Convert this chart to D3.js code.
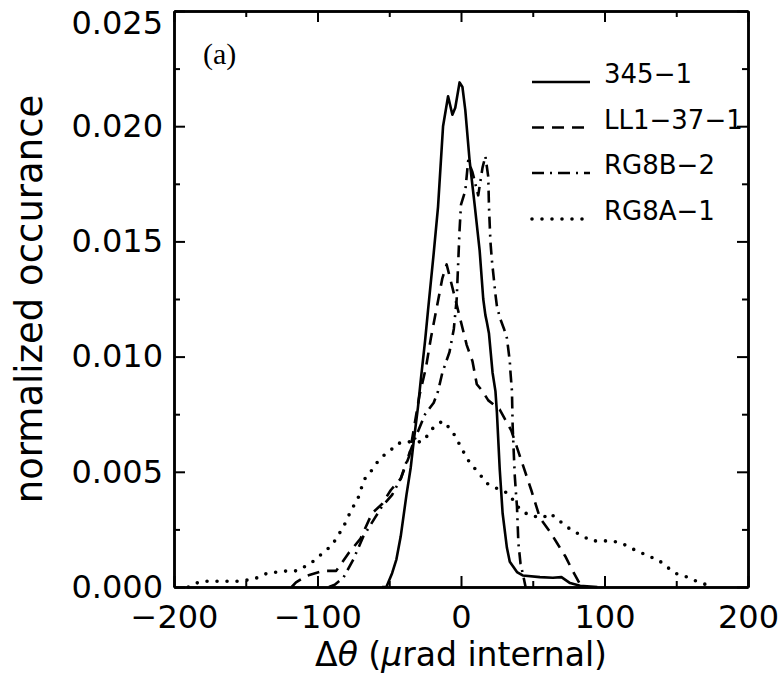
<!DOCTYPE html>
<html>
<head>
<meta charset="utf-8">
<script src="https://cdn.jsdelivr.net/npm/d3@7"></script>
<style>
  body { margin: 0; background: #fff; }
  svg { display: block; }
  .tick text { font-family: "DejaVu Sans", sans-serif; }
</style>
</head>
<body>
<div id="chart"></div>
<script>
// values: [delta theta (urad), normalized occurance]
const ser345 = [[-55,0],[-52,0],[-48,0.0006],[-45,0.0012],[-42,0.0022],[-38,0.0040],[-35,0.0052],[-33,0.0063],
  [-30,0.0078],[-28,0.0090],[-25,0.0107],[-23,0.0120],[-19,0.0145],[-16,0.0165],[-12.5,0.0200],[-9,0.0213],
  [-6,0.0205],[-4,0.0208],[-1,0.0219],[1,0.0217],[3,0.0207],[6,0.0185],[9.5,0.0166],[13,0.0146],[15.5,0.0125],
  [17,0.0118],[18,0.0115],[19.5,0.0110],[22,0.0093],[24,0.0085],[25,0.0076],[27,0.0051],[29,0.0032],[32,0.0017],
  [34,0.0011],[39,0.00065],[43,0.0005],[55,0.00043],[64,0.0004],[70,0.00043],[76,0.00017],[83,0.00005],[95,0]];

const serLL1 = [[-118,0],[-115,0.0002],[-107,0.0005],[-96,0.0007],[-87,0.0007],[-78,0.0015],[-70,0.0021],
  [-62,0.0032],[-55,0.0036],[-49,0.0042],[-42,0.0047],[-36,0.0057],[-29,0.0083],[-24.5,0.0095],[-21,0.0108],
  [-17,0.0121],[-13,0.0134],[-10,0.0140],[-4,0.0125],[-2,0.0120],[4,0.0105],[8,0.0098],[11,0.0088],[15,0.0085],
  [19,0.0081],[27,0.0077],[35,0.0068],[42,0.0055],[49,0.0042],[55,0.0030],[62,0.0024],[67,0.0019],[73,0.0013],
  [77,0.0008],[84,0]];

const serRG8B = [[-92,0],[-88,0.0001],[-82,0.0004],[-75,0.0012],[-68,0.0022],[-60,0.0030],[-55,0.0035],
  [-48,0.0040],[-42,0.0047],[-36,0.0058],[-31,0.0066],[-25,0.0075],[-19,0.0080],[-16,0.0085],[-13,0.0093],
  [-8,0.0102],[-5,0.0112],[-3,0.0125],[-2,0.0140],[-1,0.0155],[0,0.0166],[3,0.0172],[5,0.0185],[8,0.0180],
  [12,0.0170],[15,0.0182],[17,0.0187],[19,0.0178],[19.5,0.0165],[20.5,0.0150],[21.5,0.0142],[22.5,0.0136],
  [24,0.0127],[25,0.0122],[27,0.0117],[30,0.0112],[32,0.0108],[34,0.0098],[34.5,0.0093],[35.5,0.0085],
  [36,0.0070],[36.5,0.0062],[37.5,0.0048],[38.5,0.0039],[39,0.0035],[40,0.0019],[41.5,0.0010],[43,0.0006],[45,0]];

const serRG8A = [[-190,0],[-188,0.0001],[-180,0.00025],[-170,0.00025],[-163,0.00025],[-156,0.00025],
  [-149,0.0003],[-142,0.0004],[-135,0.0006],[-128,0.00065],[-121,0.0007],[-114,0.0007],[-107,0.00095],
  [-101,0.0012],[-96,0.0015],[-90,0.0018],[-86,0.0022],[-82,0.0026],[-79,0.0030],[-76,0.0034],[-72,0.0038],
  [-70,0.0042],[-67,0.0047],[-63,0.0050],[-58.5,0.0054],[-54,0.0057],[-49.5,0.0059],[-45,0.0062],[-40,0.0063],
  [-33,0.0063],[-27,0.0063],[-23,0.0066],[-19.5,0.0069],[-13,0.0072],[-8,0.0069],[-5.5,0.0067],[-2,0.0063],
  [1.4,0.0059],[6,0.0054],[13,0.0049],[18,0.0045],[24,0.0043],[29,0.0042],[34,0.0040],[38,0.0036],
  [42.5,0.0033],[48,0.0031],[57,0.0030],[62,0.0032],[68,0.0029],[74,0.0026],[79,0.0024],[85,0.0022],
  [91,0.0020],[98,0.0020],[105,0.0020],[112,0.0019],[118,0.0017],[125,0.0015],[132,0.0013],[137,0.0012],
  [143,0.0009],[149,0.0006],[155,0.0005],[162,0.0003],[168,0.00017],[175,0]];

const seriesNames = ["345\u22121", "LL1\u221237\u22121", "RG8B\u22122", "RG8A\u22121"];
const xMajor = [-200, -100, 0, 100, 200];
const xMinor = [-150, -50, 50, 150];
const yMajor = [0, 0.005, 0.010, 0.015, 0.020, 0.025];
const yMinor = [0.0025, 0.0075, 0.0125, 0.0175, 0.0225];

const width = 779, height = 690;
const margin = { left: 174, right: 748, top: 11, bottom: 587 };

const svg = d3.select("#chart").append("svg")
    .attr("width", width)
    .attr("height", height);

const x = d3.scaleLinear().domain([-200, 200]).range([margin.left, margin.right]);
const y = d3.scaleLinear().domain([0, 0.025]).range([margin.bottom, margin.top]);

// axes, ticks pointing inward on all four sides
function styleAxis(g) {
    g.selectAll("path.domain").attr("stroke", "#000").attr("stroke-width", 2.5);
    g.selectAll(".tick line").attr("stroke", "#000").attr("stroke-width", 2);
}

svg.append("g")
    .attr("transform", "translate(0," + margin.bottom + ")")
    .call(d3.axisBottom(x).tickValues(xMajor).tickSize(-11).tickSizeOuter(0).tickPadding(18))
    .call(styleAxis)
    .call(g => g.selectAll("text").attr("font-size", 32).attr("fill", "#000"));
svg.append("g")
    .attr("transform", "translate(0," + margin.bottom + ")")
    .call(d3.axisBottom(x).tickValues(xMinor).tickSize(-6).tickSizeOuter(0).tickFormat(""))
    .call(styleAxis);
svg.append("g")
    .attr("transform", "translate(0," + margin.top + ")")
    .call(d3.axisTop(x).tickValues(xMajor).tickSize(-11).tickSizeOuter(0).tickFormat(""))
    .call(styleAxis);
svg.append("g")
    .attr("transform", "translate(0," + margin.top + ")")
    .call(d3.axisTop(x).tickValues(xMinor).tickSize(-6).tickSizeOuter(0).tickFormat(""))
    .call(styleAxis);

svg.append("g")
    .attr("transform", "translate(" + margin.left + ",0)")
    .call(d3.axisLeft(y).tickValues(yMajor).tickSize(-11).tickSizeOuter(0).tickPadding(11).tickFormat(d3.format(".3f")))
    .call(styleAxis)
    .call(g => g.selectAll("text").attr("font-size", 32).attr("fill", "#000"))
    // the top label sits a little lower so it stays inside the picture
    .call(g => g.selectAll(".tick").filter(d => d === 0.025).select("text").attr("y", 12));
svg.append("g")
    .attr("transform", "translate(" + margin.left + ",0)")
    .call(d3.axisLeft(y).tickValues(yMinor).tickSize(-6).tickSizeOuter(0).tickFormat(""))
    .call(styleAxis);
svg.append("g")
    .attr("transform", "translate(" + margin.right + ",0)")
    .call(d3.axisRight(y).tickValues(yMajor).tickSize(-11).tickSizeOuter(0).tickFormat(""))
    .call(styleAxis);
svg.append("g")
    .attr("transform", "translate(" + margin.right + ",0)")
    .call(d3.axisRight(y).tickValues(yMinor).tickSize(-6).tickSizeOuter(0).tickFormat(""))
    .call(styleAxis);

// axis titles
svg.append("text")
    .attr("x", (margin.left + margin.right) / 2)
    .attr("y", 666)
    .attr("text-anchor", "middle")
    .style("font-family", "DejaVu Sans, sans-serif")
    .style("font-size", "33px")
    .html("\u0394<tspan font-style='italic'>\u03b8</tspan> (<tspan font-style='italic'>\u03bc</tspan>rad internal)");

svg.append("text")
    .attr("transform", "translate(42," + ((margin.top + margin.bottom) / 2) + ") rotate(-90)")
    .attr("text-anchor", "middle")
    .style("font-family", "DejaVu Sans, sans-serif")
    .style("font-size", "37px")
    .text("normalized occurance");

svg.append("text")
    .attr("x", 203)
    .attr("y", 64)
    .style("font-family", "Liberation Serif, serif")
    .style("font-size", "30px")
    .text("(a)");

// curves
const styles = [
    { data: ser345, dash: null, cap: "butt", w: 2.6 },
    { data: serLL1, dash: "12,8", cap: "butt", w: 2.6 },
    { data: serRG8B, dash: "12,6,2,6", cap: "butt", w: 2.6 },
    { data: serRG8A, dash: "0,10", cap: "round", w: 3.6 }
];

const line = d3.line().x(d => x(d[0])).y(d => y(d[1]));

styles.forEach(s => {
    svg.append("path")
        .datum(s.data)
        .attr("d", line)
        .attr("fill", "none")
        .attr("stroke", "#000")
        .attr("stroke-width", s.w)
        .attr("stroke-linecap", s.cap)
        .attr("stroke-linejoin", "round")
        .attr("stroke-dasharray", s.dash);
});

// legend
const legendY = [82, 127.5, 173, 219];
const legend = svg.append("g");
styles.forEach((s, i) => {
    legend.append("line")
        .attr("x1", 532).attr("x2", 590)
        .attr("y1", legendY[i]).attr("y2", legendY[i])
        .attr("stroke", "#000")
        .attr("stroke-width", s.w)
        .attr("stroke-linecap", s.cap)
        .attr("stroke-dasharray", s.dash);
    legend.append("text")
        .attr("x", 604)
        .attr("y", legendY[i] + 1)
        .style("font-family", "DejaVu Sans, sans-serif")
        .style("font-size", "26px")
        .text(seriesNames[i]);
});
</script>
</body>
</html>
